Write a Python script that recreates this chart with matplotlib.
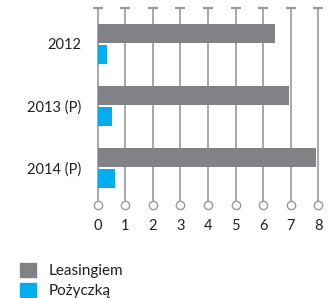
import matplotlib
matplotlib.use('Agg')
import matplotlib.pyplot as plt
from matplotlib.patches import Patch

plt.rcParams['font.family'] = ['Lato', 'DejaVu Sans']

categories = ['2012', '2013 (P)', '2014 (P)']
leasing = [6.42, 6.93, 7.93]
pozyczka = [0.34, 0.52, 0.63]
series_names = ['Leasingiem', 'Pożyczką']
xticks = [0, 1, 2, 3, 4, 5, 6, 7, 8]

GRAY = '#818285'
BLUE = '#00aeef'
GRID = '#9a9a9a'
TEXT = '#231f20'

W, H = 333, 298
fig = plt.figure(figsize=(W / 100, H / 100), dpi=100)
# axes placed in pixel coordinates of the reference
left, right, top, bottom = 97.7, 318.3, 8, 205
ax = fig.add_axes([left / W, 1 - bottom / H, (right - left) / W, (bottom - top) / H])

pos = list(range(len(categories)))
bh = 0.30
off = 0.17
ax.barh([p - off for p in pos], leasing, height=bh, color=GRAY, zorder=3)
ax.barh([p + off for p in pos], pozyczka, height=bh, color=BLUE, zorder=3)

ylo, yhi = 2.6, -0.577
ax.set_xlim(0, 8)
ax.set_ylim(ylo, yhi)

# vertical grid lines with small caps on top and hollow circles at bottom
ax.vlines(xticks, yhi, ylo - 0.02, color=GRID, lw=1.2, zorder=1, clip_on=False)
ax.plot(xticks, [yhi] * len(xticks), ls='none', marker='_', ms=7, mew=1.6,
        color=GRID, clip_on=False, zorder=1)
ax.plot(xticks, [ylo] * len(xticks), ls='none', marker='o', ms=6, mew=1.0,
        mfc='white', mec=GRID, clip_on=False, zorder=4)

for s in ax.spines.values():
    s.set_visible(False)
ax.set_xticks(xticks)
ax.set_xticklabels([str(t) for t in xticks])
ax.set_yticks(pos)
ax.set_yticklabels(categories)
ax.tick_params(axis='x', length=0, pad=10, labelsize=10.5, labelcolor=TEXT)
ax.tick_params(axis='y', length=0, pad=12, labelsize=10.5, labelcolor=TEXT)

handles = [Patch(color=GRAY), Patch(color=BLUE)]
fig.legend(handles, series_names, loc='upper left', bbox_to_anchor=(9 / W, 1 - 252 / H),
           frameon=False, fontsize=11, handlelength=1.05, handleheight=1.05,
           handletextpad=0.85, labelspacing=0.3, borderpad=0.2, labelcolor=TEXT)

plt.savefig('out.png', dpi=100)
